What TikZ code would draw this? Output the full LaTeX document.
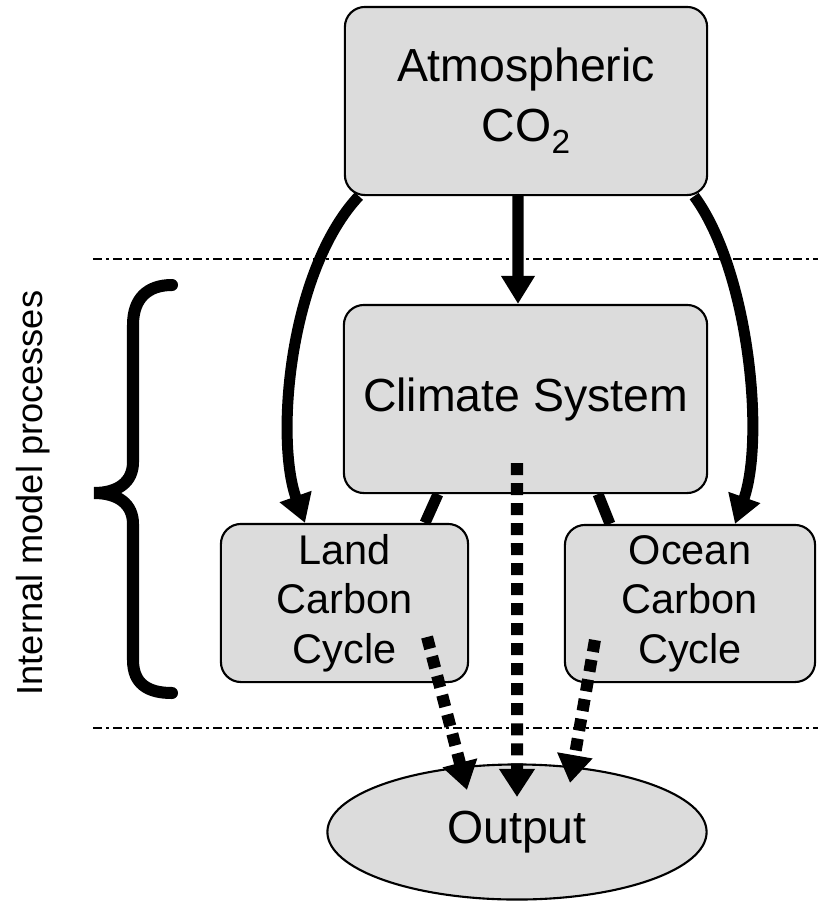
\documentclass[tikz,border=0pt]{standalone}
\usepackage{fontspec}
\setmainfont{Liberation Sans}
\usetikzlibrary{arrows.meta,shapes.geometric}
\definecolor{boxgray}{RGB}{220,220,220}
\begin{document}
\begin{tikzpicture}[x=0.01cm,y=-0.01cm,
 box/.style={draw=black,line width=0.6pt,fill=boxgray,rounded corners=2mm,inner sep=0pt,align=center},
 bigtext/.style={font=\fontsize{13.2}{17.1}\selectfont},
 smalltext/.style={font=\fontsize{11.8}{14.1}\selectfont},
 thickarr/.style={line width=1.1mm,-{Triangle[length=2.8mm,width=3.2mm]}},
 thickline/.style={line width=1.1mm},
 dotarr/.style={line width=1.2mm,dash pattern=on 1.2mm off 0.8mm,-{Triangle[length=2.8mm,width=3.4mm]}},
 sepline/.style={line width=0.25mm,dash pattern=on 0.9mm off 0.4mm on 0.3mm off 0.4mm},
 bracestyle/.style={line width=1.2mm,line cap=round}]
\useasboundingbox (0,0) rectangle (818,903);

% separator lines
\draw[sepline] (93,259) -- (818,259);
\draw[sepline] (93,728) -- (818,728);

% nodes
\node[box,bigtext,minimum width=3.62cm,minimum height=1.88cm] (atm) at (526,101) {Atmospheric\\CO\raisebox{-3.4pt}{\fontsize{9.5}{10}\selectfont 2}};
\node[box,bigtext,minimum width=3.63cm,minimum height=1.88cm] (clim) at (525.5,399) {Climate System};
\node[box,smalltext,minimum width=2.47cm,minimum height=1.58cm] (land) at (344.5,603) {Land\\Carbon\\Cycle};
\node[box,smalltext,minimum width=2.50cm,minimum height=1.57cm] (ocean) at (690,603.5) {Ocean\\Carbon\\Cycle};
\node[ellipse,draw=black,line width=0.6pt,fill=boxgray,inner sep=0pt,minimum width=3.79cm,minimum height=1.35cm,bigtext] (out) at (517,832) {Output};

% side label and brace
\node[rotate=90,font=\fontsize{10.3}{12}\selectfont] (lbl) at (33,493) {Internal model processes};
\draw[bracestyle] (172,285) .. controls (148,285) and (133,298) .. (133,325) -- (133,462)
  .. controls (133,482) and (118,493) .. (94,493)
  .. controls (118,493) and (133,504) .. (133,524) -- (133,660)
  .. controls (133,684) and (148,693) .. (172,693);

% solid connectors
\draw[thickarr] ([xshift=-0.8mm]atm.south) -- ([xshift=-0.75mm]clim.north);
\draw[thickarr] ([xshift=1.5mm]atm.south west) .. controls +(-70,75) and +(-30,-84) .. ([xshift=-3.95mm]land.north);
\draw[thickarr] ([xshift=-1.4mm]atm.south east) .. controls +(55,75) and +(30,-85) .. ([xshift=4.5mm]ocean.north);
\draw[thickline] ([xshift=-8.75mm]clim.south) -- ([xshift=8.05mm]land.north);
\draw[thickline] ([xshift=7.25mm]clim.south) -- ([xshift=-8mm]ocean.north);

% dotted connectors
\draw[dotarr] ([xshift=-0.85mm,yshift=3.1mm]clim.south) -- ([yshift=3.5mm]out.center);
\draw[dotarr] ([xshift=8.25mm,yshift=-3.4mm]land.center) -- ([xshift=-5mm,yshift=4.2mm]out.center);
\draw[dotarr] ([xshift=-9.5mm,yshift=-3.65mm]ocean.center) -- ([xshift=5.3mm,yshift=4.9mm]out.center);
\end{tikzpicture}
\end{document}
